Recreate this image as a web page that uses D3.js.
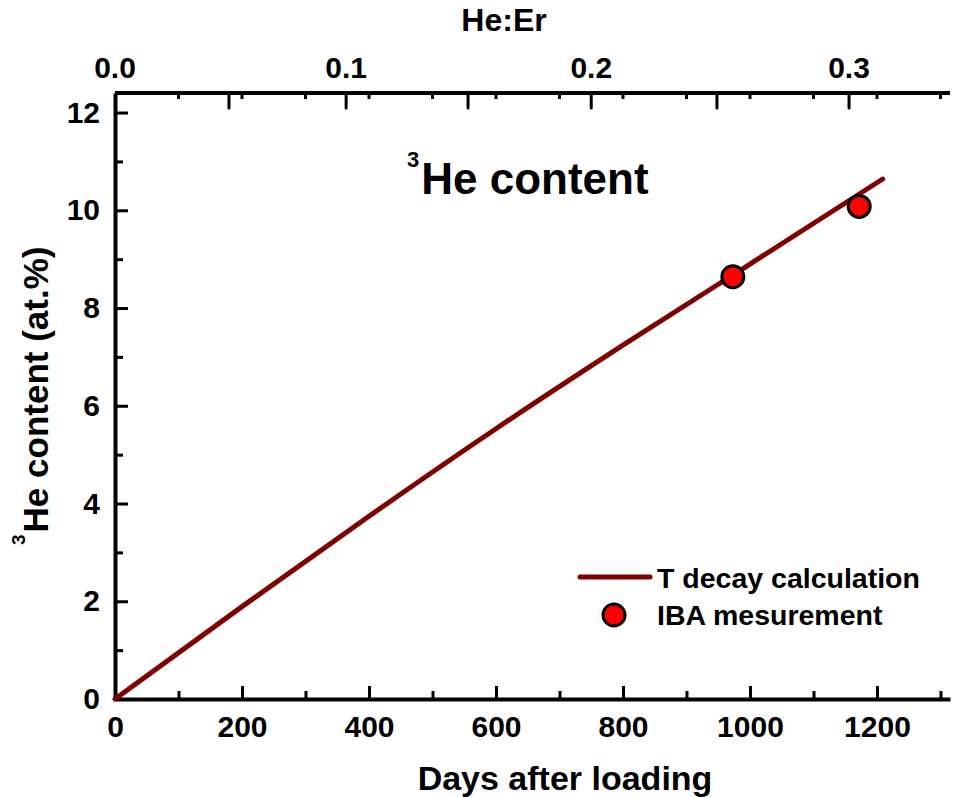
<!DOCTYPE html>
<html>
<head>
<meta charset="utf-8">
<script src="https://cdn.jsdelivr.net/npm/d3@7"></script>
<style>
  body { margin: 0; background: #fff; }
  svg text { font-family: "Liberation Sans", Arial, sans-serif; font-weight: bold; fill: #000; }
</style>
</head>
<body>
<svg id="graf" width="961" height="797"></svg>
<script>
// data
var calcDays = [0, 200, 400, 600, 800, 1000, 1209]
var calcHe = [0, 1.89, 3.74, 5.53, 7.24, 8.90, 10.64]
var ibaDays = [973, 1172]
var ibaHe = [8.64, 10.08]

var dayTicks = [0, 200, 400, 600, 800, 1000, 1200]
var dayMinor = [100, 300, 500, 700, 900, 1100, 1300]
var heTicks = [0, 2, 4, 6, 8, 10, 12]
var heMinor = [1, 3, 5, 7, 9, 11]
// top axis He:Er and the day each tick sits on
var heErTicks = [0, 0.05, 0.1, 0.15, 0.2, 0.25, 0.3]
var heErDays = [0, 179.5, 364, 556, 750, 948, 1156]
var heErLabels = [0, 0.1, 0.2, 0.3]

var svg = d3.select("#graf")

var x = d3.scaleLinear().domain([0, 1315]).range([115, 950])
var y = d3.scaleLinear().domain([0, 12.4]).range([699, 93])
var xTop = d3.scaleLinear().domain(heErTicks).range(heErDays.map(function(d){ return x(d) }))

function styleAxis(g) {
  g.select(".domain").attr("stroke", "#000").attr("stroke-width", 4)
  g.selectAll(".tick line").attr("stroke", "#000").attr("stroke-width", 3)
  g.selectAll(".tick text").style("font-size", "30px")
}
function minorTicks(g) {
  g.select(".domain").remove()
  g.selectAll("line").attr("stroke", "#000").attr("stroke-width", 3)
}

// bottom axis
var bx = svg.append("g").attr("transform", "translate(0,699)")
  .call(d3.axisBottom(x).tickValues(dayTicks).tickSize(-13).tickPadding(17).tickSizeOuter(0).tickFormat(d3.format("d")))
styleAxis(bx)
bx.selectAll(".tick text").attr("dy", "0.71em")
svg.append("g").attr("transform", "translate(0,699)")
  .call(d3.axisBottom(x).tickValues(dayMinor).tickSize(-8).tickFormat(""))
  .call(minorTicks)

// left axis
var ly = svg.append("g").attr("transform", "translate(115,0)")
  .call(d3.axisLeft(y).tickValues(heTicks).tickSize(-13).tickPadding(15).tickSizeOuter(0))
styleAxis(ly)
svg.append("g").attr("transform", "translate(115,0)")
  .call(d3.axisLeft(y).tickValues(heMinor).tickSize(-8).tickFormat(""))
  .call(minorTicks)

// top axis: line, short day ticks, He:Er ticks
svg.append("line").attr("x1", x(0)).attr("x2", x(1315)).attr("y1", 93).attr("y2", 93)
  .attr("stroke", "#000").attr("stroke-width", 4)
svg.selectAll("line.topday").data(dayTicks.concat(dayMinor).slice(1)).enter().append("line")
  .attr("class", "topday")
  .attr("x1", function(d){ return x(d) }).attr("x2", function(d){ return x(d) })
  .attr("y1", 93).attr("y2", 99)
  .attr("stroke", "#000").attr("stroke-width", 3)
svg.selectAll("line.topher").data(heErTicks.slice(1)).enter().append("line")
  .attr("class", "topher")
  .attr("x1", function(d){ return xTop(d) }).attr("x2", function(d){ return xTop(d) })
  .attr("y1", 93).attr("y2", 108)
  .attr("stroke", "#000").attr("stroke-width", 3).attr("stroke-linecap", "round")
svg.selectAll("text.topher").data(heErLabels).enter().append("text")
  .attr("class", "topher")
  .attr("x", function(d){ return xTop(d) }).attr("y", 78)
  .attr("text-anchor", "middle").style("font-size", "30px")
  .text(function(d){ return d3.format(".1f")(d) })

// axis titles
svg.append("text").attr("x", 565).attr("y", 790).attr("text-anchor", "middle")
  .style("font-size", "34px").text("Days after loading")
svg.append("text").attr("x", 504).attr("y", 31).attr("text-anchor", "middle")
  .style("font-size", "32px").text("He:Er")
var yt = svg.append("text").attr("transform", "translate(48,545) rotate(-90)")
  .style("font-size", "35px")
yt.append("tspan").style("font-size", "19px").attr("dy", -23).text("3")
yt.append("tspan").attr("dy", 23).attr("dx", 2).text("He content (at.%)")

// plot title
var t = svg.append("text").attr("x", 407).attr("y", 194).style("font-size", "44px")
t.append("tspan").style("font-size", "22px").attr("dy", -27).text("3")
t.append("tspan").attr("dy", 27).attr("dx", 2).text("He content")

// T decay line
var pts = calcDays.map(function(d, i){ return [d, calcHe[i]] })
var line = d3.line().curve(d3.curveMonotoneX)
  .x(function(d){ return x(d[0]) }).y(function(d){ return y(d[1]) })
svg.append("path").datum(pts).attr("d", line)
  .attr("fill", "none").attr("stroke", "#800000").attr("stroke-width", 5)
  .attr("stroke-linecap", "round").attr("stroke-linejoin", "round")

// IBA points
svg.selectAll("circle.iba").data(ibaDays).enter().append("circle")
  .attr("class", "iba")
  .attr("cx", function(d){ return x(d) })
  .attr("cy", function(d, i){ return y(ibaHe[i]) })
  .attr("r", 11)
  .attr("fill", "#ff0000").attr("stroke", "#000").attr("stroke-width", 3)

// legend
svg.append("line").attr("x1", 580).attr("x2", 650).attr("y1", 577).attr("y2", 577)
  .attr("stroke", "#800000").attr("stroke-width", 5).attr("stroke-linecap", "round")
svg.append("text").attr("x", 657).attr("y", 588).style("font-size", "28.5px").text("T decay calculation")
svg.append("circle").attr("cx", 614).attr("cy", 615).attr("r", 11)
  .attr("fill", "#ff0000").attr("stroke", "#000").attr("stroke-width", 3)
svg.append("text").attr("x", 657).attr("y", 625).style("font-size", "28.5px").text("IBA mesurement")
</script>
</body>
</html>
